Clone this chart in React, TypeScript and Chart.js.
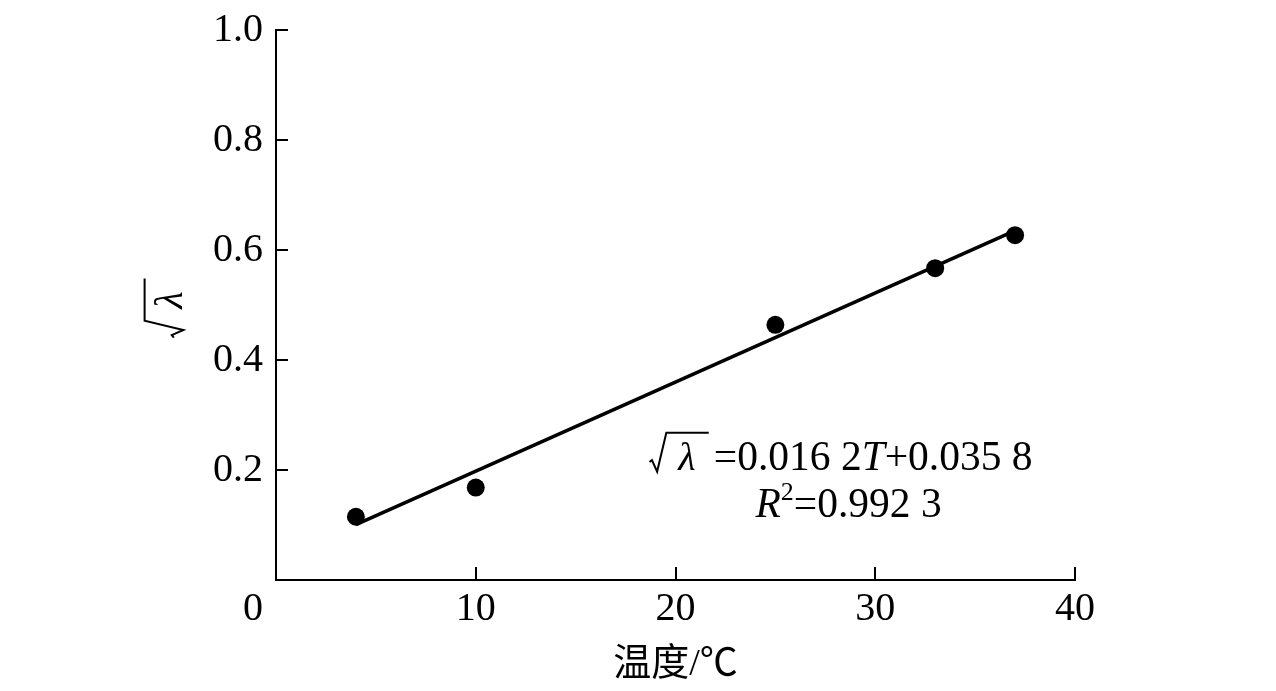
import React, { useEffect, useRef } from 'react';
import { Chart, registerables } from 'chart.js';

Chart.register(...registerables);

// ---- data ----
const temperatures = [4, 10, 25, 33, 37];
const sqrtLambda = [0.115, 0.168, 0.464, 0.567, 0.627];
const fitSlope = 0.0162;
const fitIntercept = 0.0358;
const fitRange = [4, 37];
const xTickValues = [0, 10, 20, 30, 40];
const yTickValues = [0.2, 0.4, 0.6, 0.8, 1.0];
const xAxisTitle = '温度/℃';
const equationParts = ['=0.016 2', 'T', '+0.035 8'];
const r2Parts = ['R', '2', '=0.992 3'];

const SERIF = "'Liberation Serif', 'Times New Roman', serif";
const TITLE_FONT = "'Liberation Serif', 'Noto Sans CJK SC', serif";
const FS = 40;
const EQ_FS = 41.5;

// draws radical sign + italic lambda; returns x after the bar
function drawRadicalLambda(ctx: CanvasRenderingContext2D, x0: number, base: number, s: number): number {
  ctx.save();
  ctx.font = `italic ${s}px ${SERIF}`;
  ctx.textBaseline = 'alphabetic';
  ctx.textAlign = 'left';
  const lamX = x0 + 0.72 * s;
  ctx.fillText('λ', lamX, base);
  const barEnd = x0 + 1.48 * s;
  ctx.lineWidth = 2;
  ctx.lineJoin = 'miter';
  ctx.beginPath();
  ctx.moveTo(x0, base - 0.2 * s);
  ctx.lineTo(x0 + 0.06 * s, base - 0.25 * s);
  ctx.lineTo(x0 + 0.19 * s, base + 0.04 * s);
  ctx.lineTo(x0 + 0.42 * s, base - 0.93 * s);
  ctx.lineTo(barEnd, base - 0.93 * s);
  ctx.stroke();
  ctx.restore();
  return barEnd;
}

const overlayPlugin = {
  id: 'overlay',
  afterDraw(chart: any) {
    const ctx: CanvasRenderingContext2D = chart.ctx;
    const xs = chart.scales.x;
    const ys = chart.scales.y;
    const area = chart.chartArea;
    ctx.save();
    ctx.strokeStyle = '#000';
    ctx.fillStyle = '#000';
    ctx.lineWidth = 2;
    // inward tick marks
    yTickValues.forEach((v) => {
      const py = Math.round(ys.getPixelForValue(v));
      ctx.beginPath();
      ctx.moveTo(area.left, py);
      ctx.lineTo(area.left + 12, py);
      ctx.stroke();
    });
    xTickValues.forEach((v) => {
      if (v === 0) return;
      const px = Math.round(xs.getPixelForValue(v));
      ctx.beginPath();
      ctx.moveTo(px, area.bottom);
      ctx.lineTo(px, area.bottom - 13);
      ctx.stroke();
    });

    // origin "0" label, shifted left of the axis
    const items = typeof xs.getLabelItems === 'function' ? xs.getLabelItems() : [];
    const ref = items.find((it: any) => it.label !== '' && it.label != null);
    ctx.font = `${FS}px ${SERIF}`;
    ctx.textAlign = 'center';
    if (ref) {
      ctx.textBaseline = ref.options.textBaseline;
      ctx.fillText('0', xs.getPixelForValue(0) - 23, ref.options.translation[1] + (ref.textOffset || 0));
    } else {
      ctx.textBaseline = 'middle';
      ctx.fillText('0', xs.getPixelForValue(0) - 23, area.bottom + 28);
    }

    // y axis title (rotated sqrt lambda)
    const s = FS;
    ctx.save();
    ctx.translate(164, 308);
    ctx.rotate(-Math.PI / 2);
    drawRadicalLambda(ctx, -0.74 * s, 0.445 * s, s);
    ctx.restore();

    // equation annotation
    const x1 = xs.getPixelForValue(18.7);
    const b1 = ys.getPixelForValue(0.2);
    let cx = drawRadicalLambda(ctx, x1, b1, s) + 5;
    ctx.textAlign = 'left';
    ctx.textBaseline = 'alphabetic';
    ctx.font = `${EQ_FS}px ${SERIF}`;
    ctx.fillText(equationParts[0], cx, b1);
    cx += ctx.measureText(equationParts[0]).width;
    ctx.font = `italic ${EQ_FS}px ${SERIF}`;
    ctx.fillText(equationParts[1], cx, b1);
    cx += ctx.measureText(equationParts[1]).width;
    ctx.font = `${EQ_FS}px ${SERIF}`;
    ctx.fillText(equationParts[2], cx, b1);

    const x2 = xs.getPixelForValue(24.0);
    const b2 = ys.getPixelForValue(0.115);
    let rx = x2;
    ctx.font = `italic ${EQ_FS}px ${SERIF}`;
    ctx.fillText(r2Parts[0], rx, b2);
    rx += ctx.measureText(r2Parts[0]).width;
    ctx.font = `${Math.round(EQ_FS * 0.62)}px ${SERIF}`;
    ctx.fillText(r2Parts[1], rx, b2 - 0.4 * EQ_FS);
    rx += ctx.measureText(r2Parts[1]).width;
    ctx.font = `${EQ_FS}px ${SERIF}`;
    ctx.fillText(r2Parts[2], rx, b2);

    ctx.restore();
  },
};

export default function App() {
  const canvasRef = useRef<HTMLCanvasElement | null>(null);

  useEffect(() => {
    if (!canvasRef.current) return;
    const points = temperatures.map((t, i) => ({ x: t, y: sqrtLambda[i] }));
    const fit = fitRange.map((t) => ({ x: t, y: fitSlope * t + fitIntercept }));
    const chart = new Chart(canvasRef.current, {
      type: 'scatter',
      data: {
        datasets: [
          {
            label: 'data',
            data: points,
            pointRadius: 9,
            pointBackgroundColor: '#000',
            pointBorderWidth: 0,
            showLine: false,
          },
          {
            type: 'line',
            label: 'fit',
            data: fit,
            borderColor: '#000',
            borderWidth: 3.5,
            pointRadius: 0,
            fill: false,
          } as any,
        ],
      },
      options: {
        animation: false,
        responsive: true,
        maintainAspectRatio: false,
        layout: { padding: { top: 30, right: 201, left: 0, bottom: 0 } },
        plugins: { legend: { display: false }, tooltip: { enabled: false } },
        scales: {
          x: {
            type: 'linear',
            min: 0,
            max: 40,
            afterBuildTicks: (scale: any) => {
              scale.ticks = xTickValues.map((v) => ({ value: v }));
            },
            afterFit: (scale: any) => {
              scale.height = 111;
              scale.paddingLeft = 0;
              scale.paddingRight = 0;
            },
            grid: { display: false, drawTicks: false },
            border: { display: true, color: '#000', width: 2 },
            ticks: {
              color: '#000',
              padding: 5,
              maxRotation: 0,
              autoSkip: false,
              font: { family: SERIF, size: FS },
              callback: (v: any) => (v === 0 ? '' : String(v)),
            },
            title: {
              display: true,
              text: xAxisTitle,
              color: '#000',
              font: { family: TITLE_FONT, size: 38 },
              padding: { top: 0, bottom: 3 },
            },
          },
          y: {
            type: 'linear',
            min: 0,
            max: 1.0,
            afterBuildTicks: (scale: any) => {
              scale.ticks = yTickValues.map((v) => ({ value: v }));
            },
            afterFit: (scale: any) => {
              scale.width = 276;
              scale.paddingTop = 0;
              scale.paddingBottom = 0;
            },
            grid: { display: false, drawTicks: false },
            border: { display: true, color: '#000', width: 2 },
            ticks: {
              color: '#000',
              padding: 13,
              autoSkip: false,
              font: { family: SERIF, size: FS },
              callback: (v: any) => Number(v).toFixed(1),
            },
          },
        },
      },
      plugins: [overlayPlugin],
    });
    return () => chart.destroy();
  }, []);

  return (
    <div style={{ position: 'fixed', left: 0, top: 0, width: 1276, height: 691, background: '#fff' }}>
      <canvas ref={canvasRef} />
    </div>
  );
}
